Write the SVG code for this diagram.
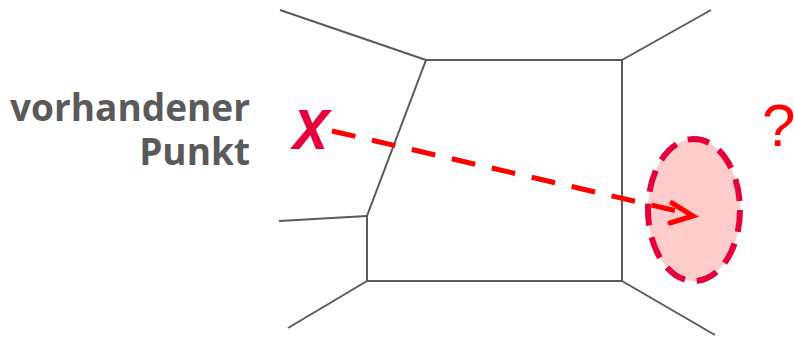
<svg xmlns="http://www.w3.org/2000/svg" width="794" height="337" viewBox="0 0 794 337">
<style>
.edge{stroke:#5a5a5a;stroke-width:2;fill:none;stroke-linejoin:miter}
.lbl{font-family:"Open Sans","DejaVu Sans",sans-serif;font-weight:bold;font-size:37px;fill:#5a5a5a}
</style>
<rect width="794" height="337" fill="#fff"/>
<g id="cells">
<polygon class="edge" points="426,60 622,60 622,281 367,281 367,216"/>
<line class="edge" x1="280" y1="10" x2="426" y2="60"/>
<line class="edge" x1="622" y1="60" x2="711" y2="10"/>
<line class="edge" x1="367" y1="216" x2="279" y2="221"/>
<line class="edge" x1="367" y1="281" x2="288" y2="328"/>
<line class="edge" x1="622" y1="281" x2="715" y2="335"/>
</g>
<g id="label">
<text class="lbl" x="250" y="121" text-anchor="end">vorhandener</text>
<text class="lbl" x="250" y="165" text-anchor="end">Punkt</text>
</g>
<g id="target">
<ellipse cx="694" cy="210" rx="46" ry="71" fill="#ffcccc" stroke="#e4003a" stroke-width="6" stroke-dasharray="22 12"/>
</g>
<g id="point">
<text x="293" y="149" font-family="'Open Sans','DejaVu Sans',sans-serif" font-style="italic" font-weight="600" font-size="72" fill="#e8003c">x</text>
</g>
<g id="question">
<text x="762" y="146" font-family="'Liberation Sans',Arial,sans-serif" font-size="60" fill="#ff0000">?</text>
</g>
<g id="connectors">
<line x1="332" y1="131" x2="690" y2="214" stroke="#ff0000" stroke-width="5" stroke-dasharray="24 17"/>
<polyline points="672,203 693,216 670,223" fill="none" stroke="#ff0000" stroke-width="5" stroke-linecap="round" stroke-linejoin="miter"/>
</g>
</svg>
